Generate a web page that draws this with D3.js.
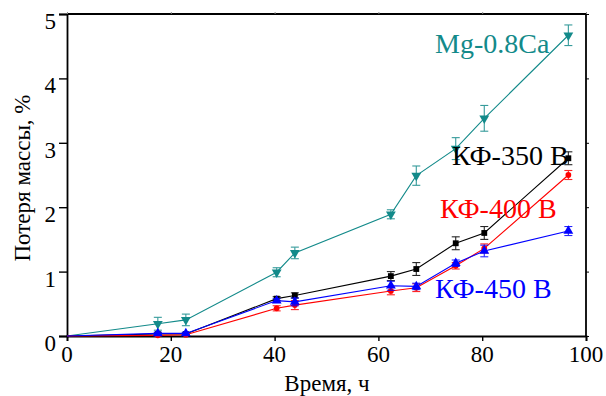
<!DOCTYPE html>
<html><head><meta charset="utf-8"><script src="https://cdn.jsdelivr.net/npm/d3@7"></script></head>
<body style="margin:0">
<svg id="chart" width="606" height="396"></svg>
<script>
// Exposure time, hours
const time = [0, 17.5, 22.9, 40.4, 43.9, 62.4, 67.3, 74.9, 80.4, 96.6];

// Mass loss, %, with error half-widths
const mg08ca    = [0, 0.19, 0.25, 0.99, 1.29, 1.89, 2.49, 2.91, 3.38, 4.67];
const mg08caErr = [0, 0.10, 0.09, 0.07, 0.09, 0.07, 0.15, 0.17, 0.20, 0.16];

const kf350    = [0, 0.03, 0.03, 0.58, 0.63, 0.93, 1.04, 1.44, 1.60, 2.76];
const kf350Err = [0, 0.02, 0.02, 0.03, 0.04, 0.07, 0.10, 0.10, 0.10, 0.10];

const kf400    = [0, 0.01, 0.02, 0.43, 0.48, 0.70, 0.75, 1.09, 1.36, 2.50];
const kf400Err = [0, 0.01, 0.01, 0.04, 0.07, 0.06, 0.06, 0.05, 0.07, 0.07];

const kf450    = [0, 0.04, 0.04, 0.55, 0.53, 0.78, 0.77, 1.13, 1.32, 1.63];
const kf450Err = [0, 0.02, 0.02, 0.03, 0.06, 0.07, 0.05, 0.05, 0.09, 0.07];

const xTicks = [0, 20, 40, 60, 80, 100];
const yTicks = [0, 1, 2, 3, 4, 5];

const seriesNames = ["Mg-0.8Ca", "КФ-350 В", "КФ-400 В", "КФ-450 В"];

const FONT = "\"Liberation Serif\"";

const series = [
  { name: seriesNames[0], values: mg08ca, err: mg08caErr, color: "#138a8a", symbol: "down", lx: 435, ly: 53 },
  { name: seriesNames[1], values: kf350,  err: kf350Err,  color: "#000000", symbol: "square", lx: 452, ly: 165 },
  { name: seriesNames[2], values: kf400,  err: kf400Err,  color: "#ff0000", symbol: "circle", lx: 440, ly: 218 },
  { name: seriesNames[3], values: kf450,  err: kf450Err,  color: "#0000ff", symbol: "up", lx: 435, ly: 298 }
];

const margin = { top: 14, right: 20, bottom: 60, left: 67 };
const W = 606, H = 396;
const svg = d3.select("#chart");

const x = d3.scaleLinear().domain([0, 100]).range([margin.left, W - margin.right]);
const y = d3.scaleLinear().domain([0, 5]).range([H - margin.bottom, margin.top]);

// Frame (top and right edges)
const frame = svg.append("g").attr("stroke", "#000").attr("stroke-width", 1.8).attr("fill", "none");
frame.append("line").attr("x1", x(0)).attr("x2", x(100)).attr("y1", y(5)).attr("y2", y(5));
frame.append("line").attr("x1", x(100)).attr("x2", x(100)).attr("y1", y(0)).attr("y2", y(5));

// Axes: lines and ticks come from d3, labels are written as plain text below
const xAxis = svg.append("g")
  .attr("transform", `translate(0,${y(0)})`)
  .call(d3.axisBottom(x).tickValues(xTicks).tickSize(5).tickFormat(""));
xAxis.select(".domain").attr("stroke-width", 1.8);
xAxis.selectAll(".tick line").attr("stroke-width", 1.4);

const yAxis = svg.append("g")
  .attr("transform", `translate(${x(0)},0)`)
  .call(d3.axisLeft(y).tickValues(yTicks).tickSize(8).tickFormat(""));
yAxis.select(".domain").attr("stroke-width", 1.8);
yAxis.selectAll(".tick line").attr("stroke-width", 1.4);

const rAxis = svg.append("g")
  .attr("transform", `translate(${x(100)},0)`)
  .call(d3.axisRight(y).tickValues(yTicks).tickSize(3).tickFormat(""));
rAxis.select(".domain").remove();
const tAxis = svg.append("g")
  .attr("transform", `translate(0,${y(5)})`)
  .call(d3.axisTop(x).tickValues(xTicks).tickSize(2).tickFormat(""));
tAxis.select(".domain").remove();
tAxis.selectAll(".tick line").attr("stroke", "#888");

// Tick labels
xTicks.forEach(t => {
  svg.append("text")
    .attr("x", x(t)).attr("y", y(0) + 26)
    .attr("text-anchor", "middle")
    .style("font-family", FONT).style("font-size", "23px")
    .text(String(t));
});
yTicks.forEach(t => {
  svg.append("text")
    .attr("x", x(0) - 11).attr("y", y(t) + 15)
    .attr("text-anchor", "end")
    .style("font-family", FONT).style("font-size", "23px")
    .text(String(t));
});

// Axis titles
svg.append("text")
  .attr("x", 327).attr("y", 391)
  .attr("text-anchor", "middle")
  .style("font-family", FONT).style("font-size", "23px")
  .text("Время, ч");
svg.append("text")
  .attr("transform", `translate(30,${178}) rotate(-90)`)
  .attr("text-anchor", "middle")
  .style("font-family", FONT).style("font-size", "23px")
  .text("Потеря массы, %");

// Marker shapes
const symbolPath = {
  down: d3.symbol().type(d3.symbolTriangle).size(42),
  up: d3.symbol().type(d3.symbolTriangle).size(42),
  square: d3.symbol().type(d3.symbolSquare).size(34),
  circle: d3.symbol().type(d3.symbolCircle).size(26)
};

const line = d3.line().x(d => x(d.t)).y(d => y(d.v));

series.forEach(s => {
  const pts = time.map((t, i) => ({ t, v: s.values[i], e: s.err[i] }));
  const g = svg.append("g");

  g.append("path")
    .datum(pts)
    .attr("fill", "none")
    .attr("stroke", s.color)
    .attr("stroke-width", 1.1)
    .attr("d", line);

  // Error bars with caps
  const eb = g.selectAll(".eb").data(pts.filter(p => p.e > 0)).enter().append("g")
    .attr("stroke", s.color).attr("stroke-width", 1.1).attr("opacity", 0.85);
  eb.append("line")
    .attr("x1", d => x(d.t)).attr("x2", d => x(d.t))
    .attr("y1", d => y(d.v - d.e)).attr("y2", d => y(d.v + d.e));
  eb.append("line")
    .attr("x1", d => x(d.t) - 4).attr("x2", d => x(d.t) + 4)
    .attr("y1", d => y(d.v - d.e)).attr("y2", d => y(d.v - d.e));
  eb.append("line")
    .attr("x1", d => x(d.t) - 4).attr("x2", d => x(d.t) + 4)
    .attr("y1", d => y(d.v + d.e)).attr("y2", d => y(d.v + d.e));

  // Markers (the shared origin point is left bare)
  g.selectAll(".pt").data(pts.filter(p => p.t > 0)).enter().append("path")
    .attr("d", symbolPath[s.symbol]())
    .attr("transform", d => `translate(${x(d.t)},${y(d.v)})${s.symbol === "down" ? " rotate(180)" : ""}`)
    .attr("fill", s.color);

  svg.append("text")
    .attr("x", s.lx).attr("y", s.ly)
    .attr("fill", s.color)
    .style("font-family", FONT).style("font-size", "28px")
    .text(s.name);
});
</script>
</body>
</html>
